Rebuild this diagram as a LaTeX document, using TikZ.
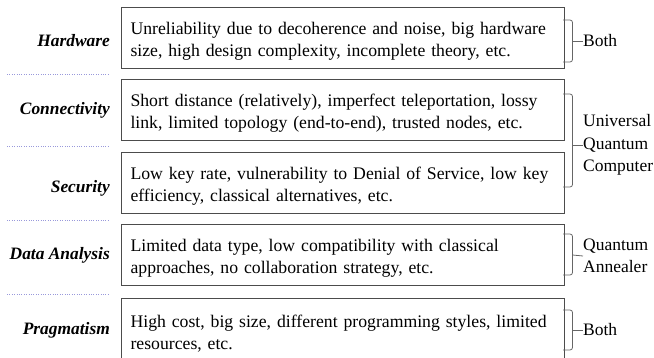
\documentclass[tikz,border=0pt]{standalone}
\usepackage{fontspec}
\setmainfont{Liberation Serif}
\newcommand\myboxend{\par\vspace*{-6pt}}
\begin{document}
\begin{tikzpicture}[x=1pt,y=-1pt,
  box/.style={draw=black!70,line width=1.1pt,anchor=north west,minimum width=442pt,minimum height=61pt,
    text width=425pt,align=left,inner xsep=9pt,font=\fontsize{17.7}{22.5}\selectfont,
    execute at end node=\myboxend},
  cat/.style={anchor=east,inner sep=0pt,font=\fontsize{17.4}{20}\selectfont\bfseries\itshape},
  lab/.style={anchor=west,align=left,inner sep=0pt,font=\fontsize{17.5}{22.5}\selectfont},
  sep/.style={draw=black!35!blue!40,line width=1pt,dash pattern=on 0.8pt off 1.6pt},
  brk/.style={draw=black!60,line width=0.8pt,rounded corners=2.5pt}]
\useasboundingbox (0,0) rectangle (654,358);
\node[box] (b1) at (121,7) {Unreliability due to decoherence and noise, big hardware\\size, high design complexity, incomplete theory, etc.};
\node[box] (b2) at (121,79) {Short distance (relatively), imperfect teleportation, lossy\\link, limited topology (end-to-end), trusted nodes, etc.};
\node[box] (b3) at (121,152) {Low key rate, vulnerability to Denial of Service, low key\\efficiency, classical alternatives, etc.};
\node[box] (b4) at (121,224) {Limited data type, low compatibility with classical\\approaches, no collaboration strategy, etc.};
\node[box,minimum height=64pt] (b5) at (121,298) {High cost, big size, different programming styles, limited\\resources, etc.};
\node[cat] (c1) at (110,41) {Hardware};
\node[cat] (c2) at (110,110) {Connectivity};
\node[cat] (c3) at (110,188) {Security};
\node[cat] (c4) at (110,255) {Data Analysis};
\node[cat] (c5) at (110,330) {Pragmatism};
\draw[sep] (7,75) -- (108,75);
\draw[sep] (7,147) -- (108,147);
\draw[sep] (7,221) -- (108,221);
\draw[sep] (7,295) -- (108,295);
\node[lab] (r1) at (583,41) {Both};
\node[lab] (r2) at (583,145) {Universal\\Quantum\\Computer};
\node[lab] (r3) at (583,256) {Quantum\\Annealer};
\node[lab] (r4) at (583,330) {Both};
\draw[brk] (563,20) -| (572.5,41) -| (572.5,62) -- (563,62);
\draw[brk] (572.5,41) -- (r1.west);
\draw[brk] (563,94) -| (572.5,145) -| (572.5,187) -- (563,187);
\draw[brk] (572.5,145) -- (r2.west);
\draw[brk] (563,234) -| (572.5,255) -| (572.5,275) -- (563,275);
\draw[brk] (572.5,255) -- (r3.west);
\draw[brk] (563,310) -| (572.5,330) -| (572.5,350) -- (563,350);
\draw[brk] (572.5,330) -- (r4.west);
\end{tikzpicture}
\end{document}
